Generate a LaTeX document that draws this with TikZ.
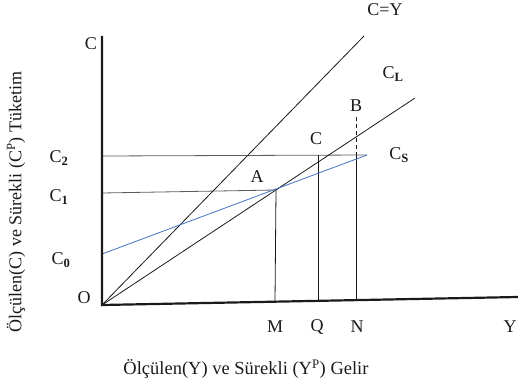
\documentclass[tikz,border=0pt]{standalone}
\usepackage{fontspec}
\setmainfont{Liberation Serif}
\usepackage{xcolor}
\usepackage{tikz}
\usetikzlibrary{arrows.meta,positioning,calc}
\definecolor{ink}{HTML}{1A1A1A}
\definecolor{guide}{HTML}{5C5C5C}
\definecolor{shortrun}{HTML}{4472C4}
\tikzset{
  axisline/.style={
    draw=ink, line width=2.2pt
  },
  funcline/.style={
    draw=#1, line width=0.8pt
  },
  funcline/.default=ink,
  guideline/.style={
    draw=guide, line width=0.8pt
  },
  dropline/.style={
    draw=ink, line width=0.8pt
  },
  lbl/.style={
    font=\fontsize{18}{21}\selectfont, color=ink, inner sep=0pt
  },
  titlelbl/.style={
    font=\fontsize{#1}{21}\selectfont, color=ink, inner sep=0pt
  },
  titlelbl/.default=18.5,
}
\begin{document}
\begin{tikzpicture}[x=1pt,y=-1pt]
  \useasboundingbox (0,0) rectangle (518,385);

  % points
  \coordinate (O) at (102,305);
  \coordinate (ytop) at (102,36);
  \coordinate (xend) at (518,297);
  \coordinate (cyend) at (364,36);
  \coordinate (clend) at (415,98);
  \coordinate (csstart) at (102,254);
  \coordinate (csend) at (367,155);
  \coordinate (c2start) at (102,156);
  \coordinate (c1start) at (102,193);
  \coordinate (A) at (276,190);
  \coordinate (mfoot) at (275,302);
  \coordinate (qtop) at (318,155);
  \coordinate (qfoot) at (318,301);
  \coordinate (ntop) at (356,156);
  \coordinate (nfoot) at (356,300);
  \coordinate (btop) at (356,117);

  % guide lines
  \draw[guideline] (c2start) -- (csend);
  \draw[guideline] (c1start) -- (A);
  \draw[dropline] (A) -- (mfoot);
  \draw[dropline] (qtop) -- (qfoot);
  \draw[dropline] (ntop) -- (nfoot);
  \draw[dropline, dash pattern=on 4pt off 3pt] (ntop) -- (btop);

  % consumption lines
  \draw[funcline] (O) -- (cyend);
  \draw[funcline] (O) -- (clend);
  \draw[funcline=shortrun] (csstart) -- (csend);

  % axes
  \draw[axisline] (ytop) -- (O) -- (xend);

  % labels
  \node[lbl] (lc) at (91,44) {C};
  \node[lbl] (lcy) at (385,10) {C=Y};
  \node[lbl] (lcl) at (393,74) {C\textsubscript{\textbf{L}}};
  \node[lbl] (lcs) at (399,155) {C\textsubscript{\textbf{S}}};
  \node[lbl] (lb) at (356,106) {B};
  \node[lbl] (lcpt) at (316,139) {C};
  \node[lbl] (la) at (257,177) {A};
  \node[lbl] (lc2) at (59,158) {C\textsubscript{\textbf{2}}};
  \node[lbl] (lc1) at (59,197) {C\textsubscript{\textbf{1}}};
  \node[lbl] (lc0) at (61,260) {C\textsubscript{\textbf{0}}};
  \node[lbl] (lo) at (84,298) {O};
  \node[lbl] (lm) at (275,327) {M};
  \node[lbl] (lq) at (317,327) {Q};
  \node[lbl] (ln) at (357,327) {N};
  \node[lbl] (ly) at (510,327) {Y};
  \node[titlelbl=18, rotate=90] (ytitle) at (16,202)
    {Ölçülen(C) ve Sürekli (C\textsuperscript{P}) Tüketim};
  \node[titlelbl] (xtitle) at (246,369)
    {Ölçülen(Y) ve Sürekli (Y\textsuperscript{P}) Gelir};
\end{tikzpicture}
\end{document}
